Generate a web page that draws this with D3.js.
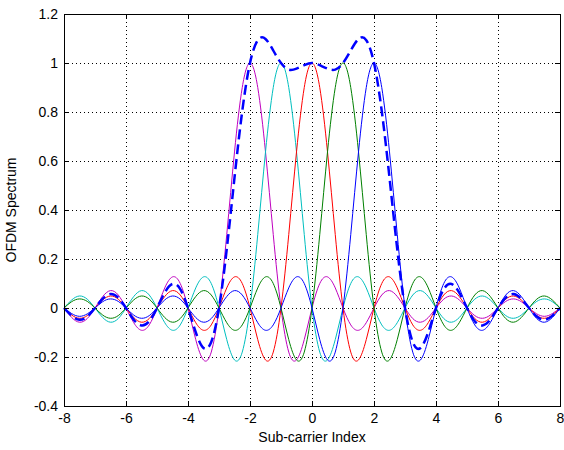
<!DOCTYPE html>
<html>
<head>
<meta charset="utf-8">
<script src="https://cdn.jsdelivr.net/npm/d3@7"></script>
<style>
  body { margin: 0; background: #fff; }
  .axis text { font-family: "Liberation Sans", Arial, sans-serif; font-size: 14px; fill: #000; }
  .axis path, .axis line { stroke: #000; shape-rendering: crispEdges; }
  .grid line { stroke: #000; stroke-dasharray: 1,3; shape-rendering: crispEdges; }
  .label { font-family: "Liberation Sans", Arial, sans-serif; font-size: 14px; fill: #000; }
</style>
</head>
<body>
<div id="chart"></div>
<script>
// sub-carrier axis samples (quarter steps)
var xValues = [-8,-7.75,-7.5,-7.25,-7,-6.75,-6.5,-6.25,-6,-5.75,-5.5,-5.25,-5,-4.75,-4.5,-4.25,
  -4,-3.75,-3.5,-3.25,-3,-2.75,-2.5,-2.25,-2,-1.75,-1.5,-1.25,-1,-0.75,-0.5,-0.25,
  0,0.25,0.5,0.75,1,1.25,1.5,1.75,2,2.25,2.5,2.75,3,3.25,3.5,3.75,
  4,4.25,4.5,4.75,5,5.25,5.5,5.75,6,6.25,6.5,6.75,7,7.25,7.5,7.75,8];

// sub-carrier -2
var magenta = [0,-.039,-.058,-.043,0,.047,.071,.053,0,-.060,-.091,-.069,0,.082,.127,.100,0,-.129,-.212,-.180,0,.300,.637,.900,1,
  .900,.637,.300,0,-.180,-.212,-.129,0,.100,.127,.082,0,-.069,-.091,-.060,0,.053,.071,.047,0,-.043,-.058,-.039,0,.036,.049,.033,0,-.031,-.042,-.029,0,.027,.037,.026,0,-.024,-.034,-.023,0];
// sub-carrier -1
var cyan = [0,.033,.049,.036,0,-.039,-.058,-.043,0,.047,.071,.053,0,-.060,-.091,-.069,0,.082,.127,.100,0,-.129,-.212,-.180,0,.300,.637,.900,1,
  .900,.637,.300,0,-.180,-.212,-.129,0,.100,.127,.082,0,-.069,-.091,-.060,0,.053,.071,.047,0,-.043,-.058,-.039,0,.036,.049,.033,0,-.031,-.042,-.029,0,.027,.037,.026,0];
// sub-carrier 0
var red = [0,-.029,-.042,-.031,0,.033,.049,.036,0,-.039,-.058,-.043,0,.047,.071,.053,0,-.060,-.091,-.069,0,.082,.127,.100,0,-.129,-.212,-.180,0,.300,.637,.900,1,
  .900,.637,.300,0,-.180,-.212,-.129,0,.100,.127,.082,0,-.069,-.091,-.060,0,.053,.071,.047,0,-.043,-.058,-.039,0,.036,.049,.033,0,-.031,-.042,-.029,0];
// sub-carrier 1
var green = [0,.026,.037,.027,0,-.029,-.042,-.031,0,.033,.049,.036,0,-.039,-.058,-.043,0,.047,.071,.053,0,-.060,-.091,-.069,0,.082,.127,.100,0,-.129,-.212,-.180,0,.300,.637,.900,1,
  .900,.637,.300,0,-.180,-.212,-.129,0,.100,.127,.082,0,-.069,-.091,-.060,0,.053,.071,.047,0,-.043,-.058,-.039,0,.036,.049,.033,0];
// sub-carrier 2
var blue = [0,-.023,-.034,-.024,0,.026,.037,.027,0,-.029,-.042,-.031,0,.033,.049,.036,0,-.039,-.058,-.043,0,.047,.071,.053,0,-.060,-.091,-.069,0,.082,.127,.100,0,-.129,-.212,-.180,0,.300,.637,.900,1,
  .900,.637,.300,0,-.180,-.212,-.129,0,.100,.127,.082,0,-.069,-.091,-.060,0,.053,.071,.047,0,-.043,-.058,-.039,0];
// overall OFDM spectrum (dashed)
var total = [0,-.032,-.048,-.035,0,.038,.057,.042,0,-.048,-.071,-.054,0,.063,.098,.077,0,-.099,-.163,-.139,0,.240,.532,.804,1,
  1.093,1.098,1.051,1,.973,.977,.991,1,.991,.977,.973,1,1.051,1.098,1.093,1,.804,.532,.240,0,-.139,-.163,-.099,0,
  .077,.098,.063,0,-.054,-.071,-.048,0,.042,.057,.038,0,-.035,-.048,-.032,0];

var xTicks = [-8,-6,-4,-2,0,2,4,6,8];
var xTickLabels = ["-8","-6","-4","-2","0","2","4","6","8"];
var yTicks = [-0.4,-0.2,0,0.2,0.4,0.6,0.8,1,1.2];
var yTickLabels = ["-0.4","-0.2","0","0.2","0.4","0.6","0.8","1","1.2"];

var margin = {top: 14, right: 4, bottom: 44, left: 64},
    width = 564 - margin.left - margin.right,
    height = 450 - margin.top - margin.bottom;

var svg = d3.select("#chart")
  .append("svg")
  .attr("width", 564)
  .attr("height", 450)
  .append("g")
  .attr("transform", "translate(" + margin.left + "," + margin.top + ")");

var x = d3.scaleLinear().domain([-8, 8]).range([0, width]);
var y = d3.scaleLinear().domain([-0.4, 1.2]).range([height, 0]);

// dotted grid
var grid = svg.append("g").attr("class", "grid");
grid.selectAll("line.vx")
  .data(xTicks.slice(1, -1))
  .enter()
  .append("line")
    .attr("x1", function(d) { return Math.round(x(d)) + 0.5; })
    .attr("x2", function(d) { return Math.round(x(d)) + 0.5; })
    .attr("y1", 0)
    .attr("y2", height);
grid.selectAll("line.hy")
  .data(yTicks.slice(1, -1))
  .enter()
  .append("line")
    .attr("x1", 0)
    .attr("x2", width)
    .attr("y1", function(d) { return Math.round(y(d)) + 0.5; })
    .attr("y2", function(d) { return Math.round(y(d)) + 0.5; });

// curves
var line = d3.line()
  .x(function(d, i) { return x(xValues[i]); })
  .y(function(d) { return y(d); })
  .curve(d3.curveNatural);

var series = [
  {values: magenta, color: "#bf00bf"},
  {values: cyan, color: "#00bfbf"},
  {values: red, color: "#ff0000"},
  {values: green, color: "#008000"},
  {values: blue, color: "#0000ff"}
];

svg.selectAll("path.sub")
  .data(series)
  .enter()
  .append("path")
    .attr("class", "sub")
    .attr("fill", "none")
    .attr("stroke", function(d) { return d.color; })
    .attr("stroke-width", 1)
    .attr("d", function(d) { return line(d.values); });

svg.append("path")
  .attr("fill", "none")
  .attr("stroke", "#0000ff")
  .attr("stroke-width", 2.5)
  .attr("stroke-dasharray", "10,5")
  .attr("d", line(total));

// axes, ticks pointing inward on all four sides
svg.append("g")
  .attr("class", "axis")
  .attr("transform", "translate(0," + height + ")")
  .call(d3.axisBottom(x).tickValues(xTicks).tickSizeInner(-5).tickSizeOuter(0).tickPadding(7)
    .tickFormat(function(d, i) { return xTickLabels[i]; }));

svg.append("g")
  .attr("class", "axis")
  .call(d3.axisLeft(y).tickValues(yTicks).tickSizeInner(-5).tickSizeOuter(0).tickPadding(6)
    .tickFormat(function(d, i) { return yTickLabels[i]; }));

svg.append("g")
  .attr("class", "axis")
  .call(d3.axisTop(x).tickValues(xTicks).tickSizeInner(-5).tickSizeOuter(0).tickFormat(""));

svg.append("g")
  .attr("class", "axis")
  .attr("transform", "translate(" + width + ",0)")
  .call(d3.axisRight(y).tickValues(yTicks).tickSizeInner(-5).tickSizeOuter(0).tickFormat(""));

// axis titles
svg.append("text")
  .attr("class", "label")
  .attr("x", width / 2)
  .attr("y", height + 36)
  .attr("text-anchor", "middle")
  .text("Sub-carrier Index");

svg.append("text")
  .attr("class", "label")
  .attr("transform", "translate(" + (-48) + "," + (height / 2) + ")rotate(-90)")
  .attr("text-anchor", "middle")
  .text("OFDM Spectrum");
</script>
</body>
</html>
